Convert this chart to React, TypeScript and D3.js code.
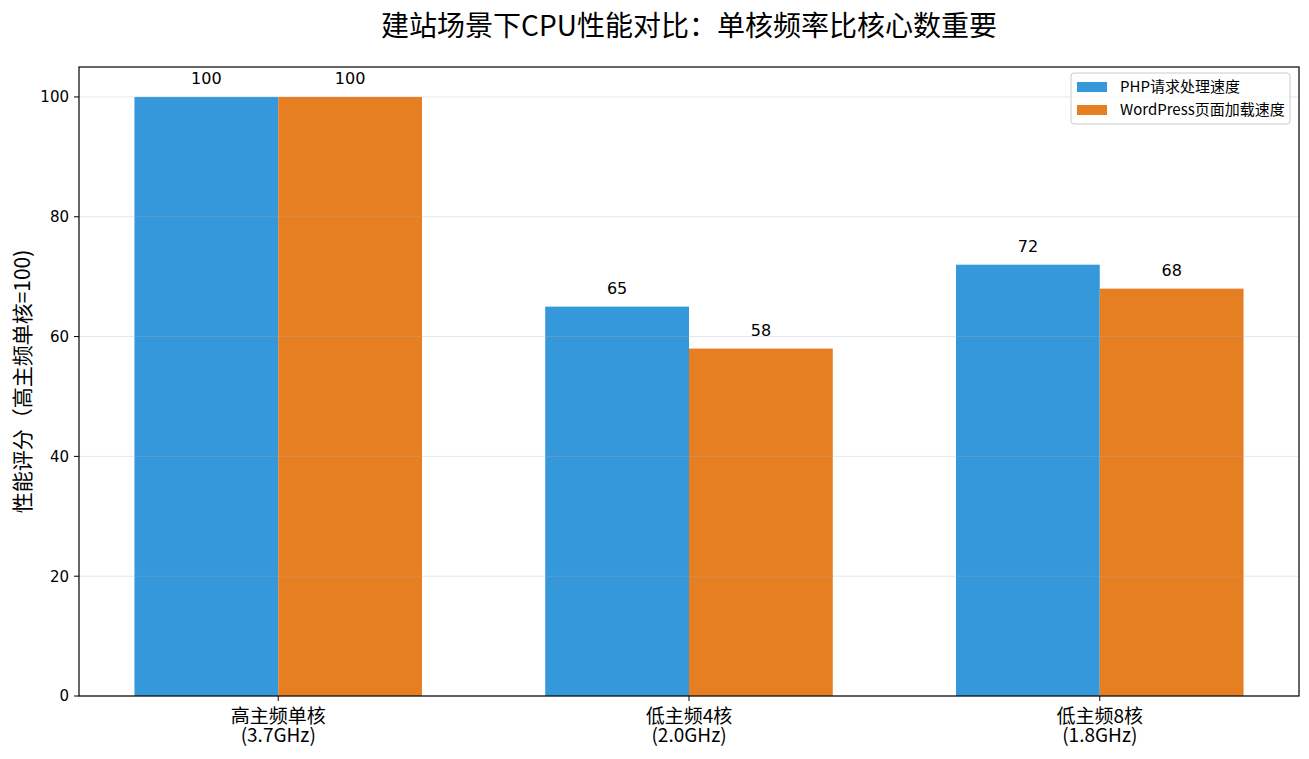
import * as d3 from "d3";

const categories = ["高主频单核\n(3.7GHz)", "低主频4核\n(2.0GHz)", "低主频8核\n(1.8GHz)"];
const seriesNames = ["PHP请求处理速度", "WordPress页面加载速度"];
const phpSpeed = [100, 65, 72];
const wpSpeed = [100, 58, 68];
const yTicks = [0, 20, 40, 60, 80, 100];

const COLORS = ["#3498db", "#e67e22"];
const W = 1309;
const H = 759;
const M = { left: 79, right: 1299, top: 67, bottom: 696 };
const CJK = "'Noto Sans CJK SC', 'Noto Sans', sans-serif";
const NUM = "'DejaVu Sans', sans-serif";

export default function App() {
    const barW = 0.35;
    const x = d3.scaleLinear().domain([-0.485, 2.485]).range([M.left, M.right]);
    const y = d3.scaleLinear().domain([0, 105]).range([M.bottom, M.top]);
    const series = [phpSpeed, wpSpeed];

    return (
        <div style={{ position: "fixed", left: 0, top: 0 }}>
            <svg width={W} height={H} style={{ display: "block", background: "#fff" }}>
                <text x={(M.left + M.right) / 2} y={36} textAnchor="middle" fontSize={28} fontFamily={CJK} fill="#000">
                    建站场景下CPU性能对比：单核频率比核心数重要
                </text>

                {series.map((vals, s) =>
                    vals.map((v, i) => {
                        const x0 = x(i + (s === 0 ? -barW : 0));
                        const x1 = x(i + (s === 0 ? 0 : barW));
                        return (
                            <g key={`${s}-${i}`}>
                                <rect x={x0} y={y(v)} width={x1 - x0} height={y(0) - y(v)} fill={COLORS[s]} />
                                <text
                                    x={(x0 + x1) / 2}
                                    y={y(v) - 13}
                                    textAnchor="middle"
                                    fontSize={16}
                                    fontFamily={NUM}
                                    fill="#000"
                                >
                                    {v}
                                </text>
                            </g>
                        );
                    })
                )}

                {/* grid sits above the bars, faint */}
                {yTicks.map((t) => (
                    <line key={t} x1={M.left} x2={M.right} y1={y(t)} y2={y(t)} stroke="#b0b0b0" strokeOpacity={0.3} strokeWidth={1} />
                ))}

                <rect x={M.left} y={M.top} width={M.right - M.left} height={M.bottom - M.top} fill="none" stroke="#000" strokeWidth={1.2} />

                {yTicks.map((t) => (
                    <g key={t} transform={`translate(${M.left},${y(t)})`}>
                        <line x1={-5} x2={0} stroke="#000" />
                        <text x={-10} dy="0.36em" textAnchor="end" fontSize={15} fontFamily={NUM} fill="#000">
                            {t}
                        </text>
                    </g>
                ))}

                {categories.map((c, i) => (
                    <g key={c} transform={`translate(${x(i)},${M.bottom})`}>
                        <line y1={0} y2={5} stroke="#000" />
                        <text y={27} textAnchor="middle" fontSize={19} fontFamily={CJK} fill="#000">
                            {c.split("\n").map((line, k) => (
                                <tspan key={k} x={0} dy={k === 0 ? 0 : 19}>
                                    {line}
                                </tspan>
                            ))}
                        </text>
                    </g>
                ))}

                <text
                    transform={`translate(30,${(M.top + M.bottom) / 2}) rotate(-90)`}
                    textAnchor="middle"
                    fontSize={21}
                    fontFamily={CJK}
                    fill="#000"
                >
                    性能评分（高主频单核=100)
                </text>

                <g transform="translate(1071,73)">
                    <rect width={219} height={51} rx={3} fill="#fff" fillOpacity={0.8} stroke="#ccc" />
                    {seriesNames.map((n, i) => (
                        <g key={n} transform={`translate(6,${14 + i * 23})`}>
                            <rect y={-5} width={30} height={10} fill={COLORS[i]} />
                            <text x={43} dy="0.35em" fontSize={15} fontFamily={CJK} fill="#000">
                                {n}
                            </text>
                        </g>
                    ))}
                </g>
            </svg>
        </div>
    );
}
